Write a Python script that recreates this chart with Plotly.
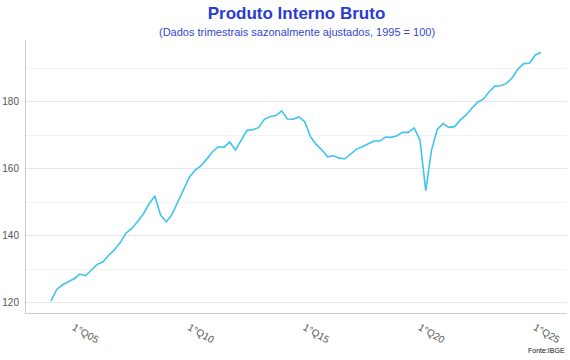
import plotly.graph_objects as go

years = list(range(2004, 2026))
quarters = [f"{q}°Q{str(y)[2:]}" for y in years for q in range(1, 5)][:86]

pib = [
    120.5, 123.9, 125.3, 126.2,   # 2004
    127.1, 128.5, 128.0, 129.7,   # 2005
    131.4, 132.1, 134.1, 135.7,   # 2006
    137.9, 140.7, 142.1, 144.1,   # 2007
    146.4, 149.4, 151.8, 146.1,   # 2008
    144.1, 146.3, 150.0, 154.2,   # 2009
    157.4, 159.5, 160.8, 162.8,   # 2010
    165.0, 166.5, 166.3, 167.9,   # 2011
    165.5, 168.5, 171.4, 171.6,   # 2012
    172.2, 174.7, 175.5, 175.8,   # 2013
    177.2, 174.8, 174.7, 175.4,   # 2014
    174.0, 169.5, 167.2, 165.5,   # 2015
    163.5, 163.8, 163.1, 162.9,   # 2016
    164.3, 165.8, 166.5, 167.4,   # 2017
    168.2, 168.2, 169.4, 169.3,   # 2018
    169.8, 170.8, 170.8, 172.1,   # 2019
    168.5, 153.4, 165.5, 171.7,   # 2020
    173.4, 172.3, 172.5, 174.5,   # 2021
    176.0, 178.0, 179.8, 180.7,   # 2022
    182.9, 184.6, 184.7, 185.4,   # 2023
    187.1, 189.7, 191.3, 191.4,   # 2024
    193.9, 194.6,                 # 2025
]

tick_labels = ["1°Q05", "1°Q10", "1°Q15", "1°Q20", "1°Q25"]

title_text = "Produto Interno Bruto"
subtitle_text = "(Dados trimestrais sazonalmente ajustados, 1995 = 100)"
source_text = "Fonte:IBGE"

FONT = "Liberation Sans, Arial, Helvetica, sans-serif"

fig = go.Figure()
fig.add_trace(go.Scatter(
    x=quarters, y=pib, mode="lines",
    line=dict(color="#3ec4ee", width=1.6),
    hoverinfo="x+y", showlegend=False,
))

fig.update_layout(
    width=570, height=360,
    margin=dict(l=26, r=3, t=40, b=47),
    paper_bgcolor="white", plot_bgcolor="white",
    font=dict(family=FONT, color="#555555"),
    title=dict(
        text=f"<b>{title_text}</b>",
        x=0.5, xref="paper", xanchor="center",
        y=1 - 12.8 / 360, yref="container", yanchor="middle",
        font=dict(family=FONT, size=17, color="#2a3bd4"),
    ),
    annotations=[
        dict(text=subtitle_text, xref="paper", yref="paper",
             x=0.5, y=1 + 8 / 273, xanchor="center", yanchor="middle",
             showarrow=False, font=dict(family=FONT, size=11, color="#3446d2")),
        dict(text=source_text, xref="paper", yref="paper",
             x=1.0, y=-37 / 273, xanchor="right", yanchor="middle",
             showarrow=False, font=dict(family=FONT, size=7, color="#111111")),
    ],
    xaxis=dict(
        type="category", categoryorder="array", categoryarray=quarters,
        range=[-4.34, 89.5],
        tickmode="array", tickvals=tick_labels, ticktext=tick_labels,
        tickangle=30, tickfont=dict(size=10, color="#555555"),
        showgrid=False, zeroline=False,
        showline=True, linecolor="#cccccc", linewidth=1,
        ticks="", ticklabelstandoff=4,
    ),
    yaxis=dict(
        range=[116.87, 198.36],
        tick0=0, dtick=20,
        tickfont=dict(size=10, color="#555555"),
        showgrid=True, gridcolor="#e8e8e8", gridwidth=1,
        minor=dict(dtick=10, tick0=0, showgrid=True, gridcolor="#f3f3f3", gridwidth=1),
        zeroline=False,
        showline=True, linecolor="#cccccc", linewidth=1,
        ticks="", ticklabelstandoff=4,
    ),
)

fig.write_html("out.html")
